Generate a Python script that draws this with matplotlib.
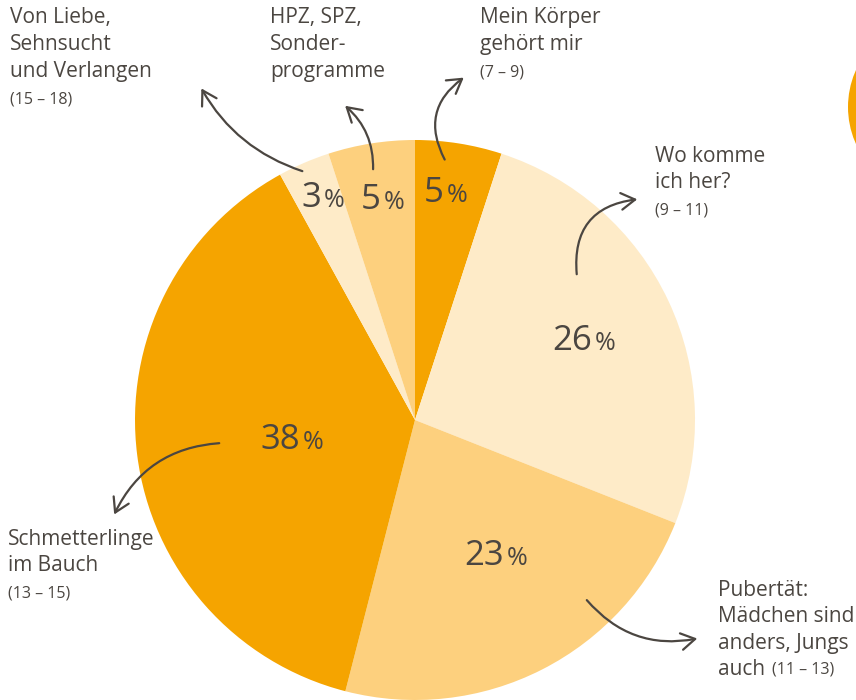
import matplotlib
matplotlib.use("Agg")
import matplotlib.pyplot as plt
from matplotlib.patches import FancyArrowPatch, Circle

plt.rcParams['font.family'] = ['Open Sans', 'DejaVu Sans']

# data: share of each programme, clockwise from 12 o'clock
shares = [5, 26, 23, 38, 3, 5]
colors = ['#F5A400', '#FEEBC8', '#FDD07E', '#F5A400', '#FEEBC8', '#FDD07E']
titles = ['Mein Körper\ngehört mir', 'Wo komme\nich her?',
          'Pubertät:\nMädchen sind\nanders, Jungs\nauch',
          'Schmetterlinge\nim Bauch', 'Von Liebe,\nSehnsucht\nund Verlangen',
          'HPZ, SPZ,\nSonder-\nprogramme']
ages = ['(7 – 9)', '(9 – 11)', '(11 – 13)', '(13 – 15)', '(15 – 18)', '']

INK = '#4B4641'
H = 700
STEP = 26.5

fig = plt.figure(figsize=(8.56, 7), dpi=100)
ax = fig.add_axes([0, 0, 1, 1])

ax.pie(shares, colors=colors, startangle=90, counterclock=False,
       center=(415, H - 420), radius=280, wedgeprops=dict(linewidth=0))
ax.set_xlim(0, 856)
ax.set_ylim(0, H)
ax.set_aspect('equal')
ax.axis('off')

# cut-off circle at the right edge
ax.add_patch(Circle((938, H - 107), 90, color='#F5A400', lw=0))

# percentage labels (anchor x between number and %, centre y from top)
pct_pos = [(444, 190), (592, 338), (504, 553), (300, 437), (321, 195), (381, 197)]
for v, (x, y) in zip(shares, pct_pos):
    ax.text(x, H - y - 12, str(v), fontsize=25, color=INK, ha='right', va='baseline')
    ax.text(x + 3, H - y - 12, '%', fontsize=18, color=INK, ha='left', va='baseline')

# category labels, line by line (centre of first line, y from top)
lab_pos = [(480, 18), (655, 156), (718, 590), (8, 539), (10, 18), (270, 18)]
for t, a, (x, y) in zip(titles, ages, lab_pos):
    lines = t.split('\n')
    for i, line in enumerate(lines):
        ax.text(x, H - (y + i * STEP), line, fontsize=15, color=INK,
                ha='left', va='center')
    if not a:
        continue
    if len(lines) == 4:
        # "auch (11-13)" shares the last line
        ax.text(x + 54, H - (y + 3 * STEP), a, fontsize=11.5, color=INK,
                ha='left', va='center')
    else:
        ax.text(x, H - (y + (len(lines) - 1) * STEP + 28), a, fontsize=11.5,
                color=INK, ha='left', va='center')

# hand drawn arrows: (start, end, bend)
arrows = [((446, 162), (466, 76), -0.45),
          ((373, 172), (343, 104), 0.25),
          ((305, 172), (200, 86), -0.2),
          ((577, 277), (640, 199), -0.5),
          ((222, 443), (113, 517), 0.3),
          ((585, 598), (700, 638), 0.3)]
for (x0, y0), (x1, y1), rad in arrows:
    ax.add_patch(FancyArrowPatch((x0, H - y0), (x1, H - y1),
                                 connectionstyle=f'arc3,rad={rad}',
                                 arrowstyle='->,head_length=10,head_width=6',
                                 color=INK, lw=1.6, mutation_scale=1))

fig.savefig('out.png', dpi=100)
